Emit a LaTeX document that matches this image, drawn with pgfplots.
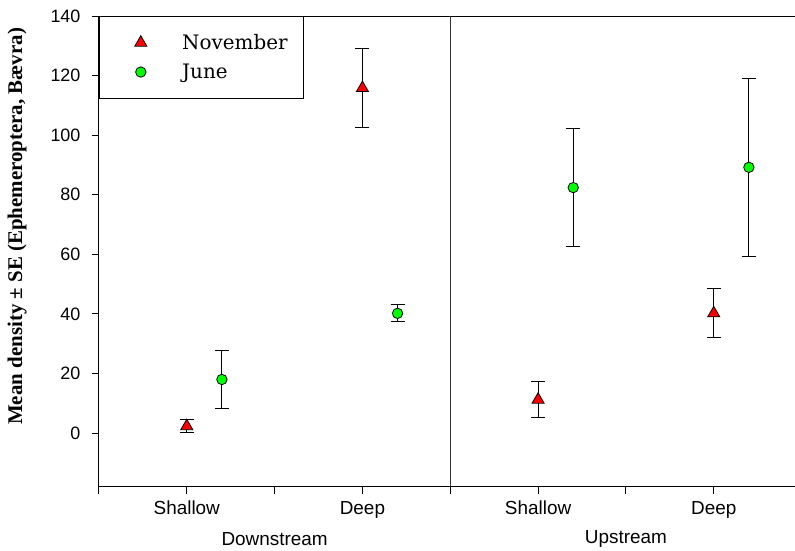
\documentclass[border=0pt]{standalone}
\usepackage{fontspec}
\setmainfont{Liberation Sans}
\newfontfamily\legfont{DejaVu Serif}
\newfontfamily\labfont{Liberation Serif}
\usepackage{pgfplots}
\pgfplotsset{compat=1.18}
\definecolor{nov}{RGB}{255,0,0}
\definecolor{jun}{RGB}{0,255,0}
\begin{document}
\begin{tikzpicture}
\begin{axis}[
  scale only axis,
  width=696bp, height=471bp,
  xmin=0, xmax=7.92,
  ymin=-18, ymax=140,
  axis x line=box,
  axis y line*=left,
  axis line style={line width=0.9bp},
  xtick={0,1,2,3,4,5,6,7},
  xticklabels={,Shallow,,Deep,,Shallow,,Deep},
  ytick={0,20,40,60,80,100,120,140},
  xtick pos=bottom, ytick pos=left,
  tick align=outside,
  major tick length=7bp,
  tick style={line width=0.9bp, black},
  /pgf/number format/assume math mode=true,
  yticklabel style={font=\fontsize{18}{20}\selectfont, xshift=-8bp},
  xticklabel style={font=\fontsize{19}{22}\selectfont, yshift=-4bp},
  ylabel={\labfont\bfseries Mean density ± SE (Ephemeroptera, Bævra)},
  ylabel style={font=\fontsize{21}{24}\selectfont, yshift=17bp, xshift=25bp},
  clip=false,
  legend style={at={(0,1)}, anchor=north west, draw=black, line width=0.9bp,
    font=\legfont\fontsize{20}{24}\selectfont, inner xsep=10bp, inner ysep=16bp,
    legend cell align=left, row sep=9bp,
    nodes={inner xsep=6bp}},
  legend image code/.code={\path (-6bp,0bp) (60bp,0bp); \draw[mark repeat=2,mark phase=2] plot coordinates {(0bp,0bp) (25bp,0bp) (50bp,0bp)};},
  error bars/y dir=both,
  error bars/y explicit,
  error bars/error bar style={black, line width=1bp},
  error bars/error mark options={rotate=90, mark size=7bp, black, line width=1bp},
]
\addplot[only marks, mark=triangle*, mark size=7bp, mark options={fill=nov, draw=black, line width=0.8bp}]
  coordinates {
  (1,2.3) +- (0,2.1)
  (3,115.8) +- (0,13.3)
  (5,11.2) +- (0,6.0)
  (7,40.2) +- (0,8.2)
  };
\addlegendentry{November}
\addplot[only marks, mark=*, mark size=5.2bp, mark options={fill=jun, draw=black, line width=0.8bp}]
  coordinates {
  (1.4,18.0) +- (0,9.7)
  (3.4,40.2) +- (0,2.8)
  (5.4,82.4) +- (0,19.8)
  (7.4,89.2) +- (0,29.8)
  };
\addlegendentry{June}
\draw[line width=0.7bp, black!80] (axis cs:4,-18) -- (axis cs:4,140);
\node[font=\fontsize{19}{22}\selectfont] at (axis cs:2,-18) [yshift=-52bp] {Downstream};
\node[font=\fontsize{19}{22}\selectfont] at (axis cs:6,-18) [yshift=-52bp] {Upstream};
\end{axis}
\path (current axis.south west) ++(-99bp,-63bp) coordinate (bl);
\path (current axis.north east) ++(0bp,16bp) coordinate (tr);
\path (bl) rectangle (tr);
\end{tikzpicture}
\end{document}
